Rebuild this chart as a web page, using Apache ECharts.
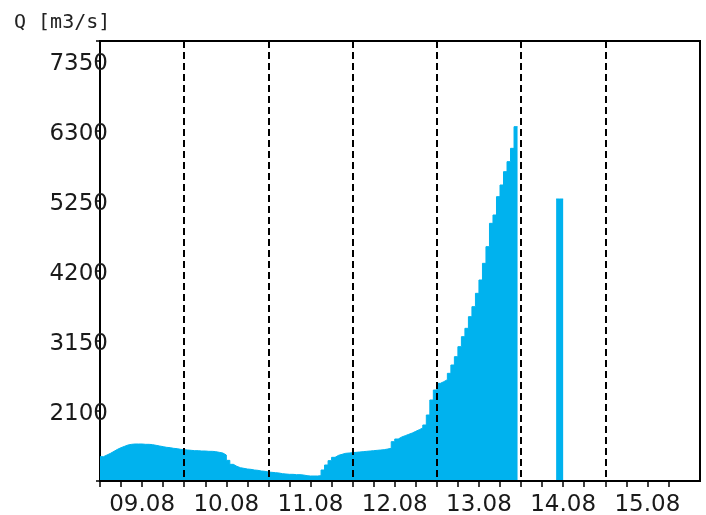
<!DOCTYPE html>
<html><head><meta charset="utf-8">
<script src="https://cdn.jsdelivr.net/npm/echarts@6.0.0/dist/echarts.min.js"></script>
<style>html,body{margin:0;padding:0;background:#fff}#c{width:706px;height:515px}</style>
</head><body><div id="c"></div>
<script>
const titleText = 'Q [m3/s]';
const dayLabels = ['09.08', '10.08', '11.08', '12.08', '13.08', '14.08', '15.08'];
const yTickValues = [2100, 3150, 4200, 5250, 6300, 7350];
const hoursTotal = 171;
// hourly discharge from 09.08 00:00 (hour 0) to 13.08 22:00 (hour 118)
const flowHourly = [
  1415, 1440, 1465, 1495, 1525, 1550, 1570, 1590, 1600, 1605, 1605, 1605,
  1600, 1600, 1595, 1585, 1575, 1565, 1555, 1550, 1540, 1535, 1525, 1520,
  1515, 1510, 1505, 1505, 1500, 1500, 1495, 1495, 1490, 1480, 1470, 1440,
  1360, 1300, 1270, 1250, 1240, 1230, 1225, 1215, 1210, 1200, 1195, 1185,
  1180, 1175, 1170, 1160, 1155, 1150, 1150, 1145, 1145, 1140, 1130, 1125,
  1125, 1125, 1130, 1215, 1290, 1355, 1405, 1435, 1450, 1465, 1470, 1475,
  1480, 1485, 1490, 1495, 1500, 1505, 1510, 1515, 1520, 1530, 1540, 1640,
  1680, 1710, 1730, 1750, 1770, 1795, 1820, 1845, 1890, 2040, 2265, 2415,
  2515, 2540, 2570, 2665, 2790, 2915, 3065, 3215, 3340, 3515, 3665, 3865,
  4065, 4315, 4565, 4915, 5040, 5315, 5490, 5690, 5840, 6040, 6365
];
const spikeStartHour = 130;
const spikeValues = [5280, 5280];

const categories = [];
for (let h = 0; h <= hoursTotal; h++) categories.push(String(h));
const seriesData = categories.map(() => null);
flowHourly.forEach((v, i) => { seriesData[i] = v; });
spikeValues.forEach((v, i) => { seriesData[spikeStartHour + i] = v; });

const chart = echarts.init(document.getElementById('c'), null, {renderer: 'canvas'});
chart.setOption({
  animation: false,
  backgroundColor: '#fff',
  title: {
    text: titleText, left: 9, top: 8,
    textStyle: {fontFamily: 'DejaVu Sans Mono', fontSize: 20, fontWeight: 'normal', color: '#222'}
  },
  grid: {left: 100, right: 6, top: 41, bottom: 34, show: true, borderColor: '#000', borderWidth: 2,
    backgroundColor: 'transparent', containLabel: false, outerBoundsMode: 'none'},
  xAxis: {
    type: 'category', data: categories, boundaryGap: false, z: 5,
    axisLine: {lineStyle: {color: '#000', width: 2}},
    axisTick: {interval: (i) => i % 6 === 0 && i <= 162, length: 6, lineStyle: {color: '#000', width: 1.5}},
    axisLabel: {
      interval: (i) => i % 24 === 12,
      formatter: (v) => dayLabels[Math.floor(Number(v) / 24)] || '',
      margin: 13, fontFamily: 'DejaVu Sans', fontSize: 23, color: '#1a1a1a'
    },
    splitLine: {show: true, interval: (i) => i % 24 === 0 && i > 0 && i < 168,
      lineStyle: {color: '#000', type: [7, 4], width: 2}}
  },
  yAxis: {
    type: 'value', min: 1050, max: 7650, interval: 1050,
    axisLine: {show: true, lineStyle: {color: '#000', width: 2}},
    axisTick: {show: true, length: 4, lineStyle: {color: '#000', width: 1.5}},
    axisLabel: {margin: -8, verticalAlign: 'top', lineHeight: 6,
      formatter: (v) => yTickValues.includes(v) ? String(v) : '',
      fontFamily: 'DejaVu Sans', fontSize: 23, color: '#1a1a1a'},
    splitLine: {show: false}
  },
  series: [{
    type: 'line', data: seriesData, step: 'end', showSymbol: false, connectNulls: false,
    lineStyle: {color: '#00B2EE', width: 1},
    itemStyle: {color: '#00B2EE'},
    areaStyle: {color: '#00B2EE', opacity: 1, origin: 'start'}
  }]
});
</script></body></html>
